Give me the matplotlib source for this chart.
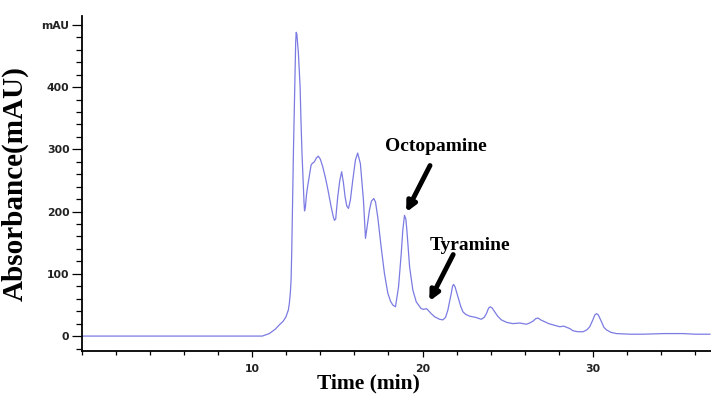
import matplotlib.pyplot as plt
from matplotlib.ticker import MultipleLocator, FixedLocator

# chromatogram trace (time in min, absorbance in mAU)
time_min = [
    0.0, 10.59, 11.0, 11.35, 11.59, 11.82, 11.98, 12.12, 12.18, 12.24,
    12.28, 12.32, 12.37, 12.42, 12.47, 12.52, 12.55, 12.58, 12.62, 12.66,
    12.71, 12.76, 12.81, 12.86, 12.92, 13.0, 13.04, 13.07, 13.12, 13.18,
    13.25, 13.35, 13.45, 13.51, 13.65, 13.76, 13.88, 14.0, 14.14, 14.29,
    14.43, 14.63, 14.74, 14.82, 14.9, 15.02, 15.14, 15.25, 15.35, 15.45,
    15.55, 15.65, 15.76, 15.9, 16.06, 16.19, 16.35, 16.53, 16.65, 16.76,
    16.88, 17.0, 17.14, 17.24, 17.37, 17.57, 17.76, 17.96, 18.12, 18.25,
    18.41, 18.59, 18.75, 18.84, 18.94, 19.02, 19.08, 19.24, 19.43, 19.63,
    19.92, 20.06, 20.24, 20.51, 20.71, 21.0, 21.19, 21.35, 21.49, 21.59,
    21.69, 21.76, 21.82, 21.91, 22.08, 22.24, 22.37, 22.53, 22.76, 23.12,
    23.45, 23.62, 23.75, 23.88, 23.98, 24.09, 24.24, 24.41, 24.63, 24.94,
    25.31, 25.71, 26.1, 26.29, 26.49, 26.65, 26.78, 26.94, 27.18, 27.41,
    27.66, 28.06, 28.29, 28.47, 28.65, 28.84, 29.12, 29.43, 29.65, 29.82,
    30.0, 30.12, 30.22, 30.32, 30.51, 30.65, 30.8, 31.06, 31.39, 32.18,
    32.96, 33.65, 34.14, 34.71, 35.31, 36.0, 36.88,
]
absorbance = [
    0, 0, 4, 11, 18, 24, 31, 42, 53, 71,
    90, 138, 218, 299, 363, 435, 472, 488, 485, 472,
    454, 427, 400, 347, 294, 240, 215, 201, 207, 226,
    240, 257, 274, 277, 280, 286, 289, 284, 272, 255,
    237, 208, 194, 186, 188, 224, 250, 264, 247, 224,
    209, 205, 218, 250, 283, 294, 277, 218, 157, 178,
    202, 217, 221, 215, 191, 143, 101, 69, 56, 50,
    47, 79, 133, 170, 194, 188, 170, 111, 74, 55,
    44, 43, 44, 36, 31, 27, 26, 30, 42, 56,
    69, 80, 83, 79, 63, 48, 39, 35, 32, 30,
    27, 30, 36, 45, 47, 45, 39, 32, 26, 22,
    20, 21, 19, 21, 24, 28, 29, 26, 23, 20,
    18, 15, 16, 14, 12, 8.5, 7, 7, 10, 15,
    26, 34, 36, 34, 23, 14, 10, 6, 4, 3,
    3, 3.5, 4, 4, 4, 3, 3,
]

y_ticks = [0, 100, 200, 300, 400, 500]
y_tick_labels = ["0", "100", "200", "300", "400", "mAU"]
x_ticks = [10, 20, 30]

# (label, text position, arrow head)
peaks = [
    ("Octopamine", (20.8, 305), (19.04, 199)),
    ("Tyramine", (22.8, 146), (20.4, 56)),
]

fig = plt.figure(figsize=(7.11, 3.94), dpi=100)
ax = fig.add_axes([0.1153, 0.1091, 0.8847, 0.85])

ax.plot(time_min, absorbance, color="#7b7be3", linewidth=0.9,
        solid_joinstyle="round")

ax.set_xlim(0, 36.94)
ax.set_ylim(-24, 514)

ax.spines["top"].set_visible(False)
ax.spines["right"].set_visible(False)
for side in ("left", "bottom"):
    ax.spines[side].set_linewidth(1.3)

ax.yaxis.set_major_locator(FixedLocator(y_ticks))
ax.set_yticklabels(y_tick_labels)
ax.yaxis.set_minor_locator(MultipleLocator(20))
ax.xaxis.set_major_locator(FixedLocator(x_ticks))
ax.xaxis.set_minor_locator(MultipleLocator(2))

for lbl in ax.get_xticklabels() + ax.get_yticklabels():
    lbl.set_fontfamily("DejaVu Sans")
    lbl.set_fontweight("bold")
    lbl.set_fontsize(7.8)
    lbl.set_color("#222222")

ax.tick_params(axis="y", which="major", length=7, width=0.9, pad=2)
ax.tick_params(axis="y", which="minor", length=4, width=0.9)
ax.tick_params(axis="x", which="major", length=4, width=0.9, pad=5)
ax.tick_params(axis="x", which="minor", length=3, width=0.9)

ax.set_ylabel("Absorbance(mAU)", fontfamily="Liberation Serif",
              fontweight="bold", fontsize=21)
ax.yaxis.set_label_coords(-0.085, 0.5)
ax.set_xlabel("Time (min)", fontfamily="Liberation Serif",
              fontweight="bold", fontsize=15.5)
ax.xaxis.set_label_coords(0.455, -0.068)

for label, text_pos, head in peaks:
    ax.text(*text_pos, label, ha="center", va="center",
            fontfamily="Liberation Serif", fontweight="bold", fontsize=14)
    tail = (head[0] + 1.4, head[1] + 75)
    ax.annotate("", xy=head, xytext=tail,
                arrowprops=dict(arrowstyle="-|>", color="black", lw=3.5,
                                mutation_scale=14, shrinkA=0, shrinkB=0))

fig.savefig("out.png", dpi=100)
